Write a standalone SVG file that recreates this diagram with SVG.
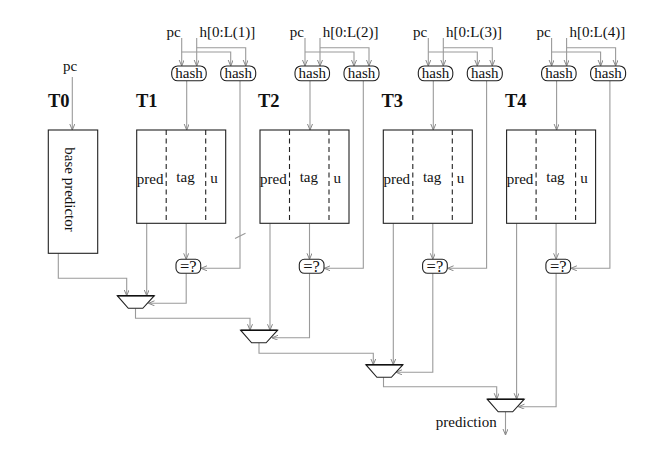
<svg xmlns="http://www.w3.org/2000/svg" width="663" height="464" viewBox="0 0 663 464">
<defs>
<marker id="ar" markerWidth="7" markerHeight="6" refX="6" refY="2.5" orient="auto" markerUnits="userSpaceOnUse">
<path d="M0,0 L6,2.5 L0,5" fill="none" stroke="#888" stroke-width="1"/>
</marker>
</defs>
<style>
text{font-family:"Liberation Serif","Times New Roman",serif;font-size:15px;fill:#111}
.T{font-weight:bold;font-size:18.5px}
.c{text-anchor:middle}
.eq{font-size:16.5px}
.box{fill:#fff;stroke:#222;stroke-width:1.1}
.dash{stroke:#222;stroke-width:1.1;stroke-dasharray:5,3.5}
.ln{fill:none;stroke:#9a9a9a;stroke-width:1.1}
.ar{marker-end:url(#ar)}
.mux{fill:#fff;stroke:#222;stroke-width:1.1}
.top{stroke:#111;stroke-width:1.6}
</style>
<rect width="663" height="464" fill="#fff"/>

<g id="connectors">
<!-- T0 -->
<path class="ln ar" d="M72.3,77 V130"/>
<path class="ln ar" d="M58.3,253.3 V278.3 H126.7 V295.7"/>
<!-- T1 X=136.7 -->
<path class="ln ar" d="M181.7,38 V66"/>
<path class="ln ar" d="M181.7,52 H230.7 V66"/>
<path class="ln ar" d="M196.7,38 V66"/>
<path class="ln ar" d="M196.7,47.7 H245.7 V66"/>
<path class="ln ar" d="M186.7,81 V130"/>
<path class="ln ar" d="M240,81 V268.3 H201"/>
<path class="ln" d="M235,238.5 L245.5,233.3"/>
<path class="ln ar" d="M186.2,223.3 V259.3"/>
<path class="ln ar" d="M146.7,223.3 V295.7"/>
<path class="ln ar" d="M186.2,273.3 V303.3 H148.5"/>
<path class="ln ar" d="M135.5,308.3 V318.3 H250 V330.2"/>
<!-- T2 X=260 -->
<path class="ln ar" d="M305,38 V66"/>
<path class="ln ar" d="M305,52 H354 V66"/>
<path class="ln ar" d="M320,38 V66"/>
<path class="ln ar" d="M320,47.7 H369 V66"/>
<path class="ln ar" d="M310,81 V130"/>
<path class="ln ar" d="M363.3,81 V268.3 H324.3"/>
<path class="ln ar" d="M309.5,223.3 V259.3"/>
<path class="ln ar" d="M270,223.3 V330.2"/>
<path class="ln ar" d="M309.5,273.3 V337.8 H272"/>
<path class="ln ar" d="M259,342.8 V353.3 H373.3 V364.7"/>
<!-- T3 X=383.3 -->
<path class="ln ar" d="M428.3,38 V66"/>
<path class="ln ar" d="M428.3,52 H477.3 V66"/>
<path class="ln ar" d="M443.3,38 V66"/>
<path class="ln ar" d="M443.3,47.7 H492.3 V66"/>
<path class="ln ar" d="M433.3,81 V130"/>
<path class="ln ar" d="M486.6,81 V268.3 H447.6"/>
<path class="ln ar" d="M432.8,223.3 V259.3"/>
<path class="ln ar" d="M393.3,223.3 V364.7"/>
<path class="ln ar" d="M432.8,273.3 V372.3 H396"/>
<path class="ln ar" d="M383.5,377.3 V386.7 H496.7 V399.2"/>
<!-- T4 X=506.6 -->
<path class="ln ar" d="M551.6,38 V66"/>
<path class="ln ar" d="M551.6,52 H600.6 V66"/>
<path class="ln ar" d="M566.6,38 V66"/>
<path class="ln ar" d="M566.6,47.7 H615.6 V66"/>
<path class="ln ar" d="M556.6,81 V130"/>
<path class="ln ar" d="M609.9,81 V268.3 H570.9"/>
<path class="ln ar" d="M556.1,223.3 V259.3"/>
<path class="ln ar" d="M516.6,223.3 V399.2"/>
<path class="ln ar" d="M556.1,273.3 V406.7 H518.5"/>
<path class="ln ar" d="M505.5,411.8 V435"/>
</g>

<g id="T0">
<text x="63" y="71">pc</text>
<text class="T" x="48" y="107">T0</text>
<rect class="box" x="48.3" y="130" width="49.4" height="123.3"/>
<text transform="translate(65,189.5) rotate(90)" class="c">base predictor</text>
</g>

<g id="T1">
<text x="166.5" y="37">pc</text>
<text x="199.5" y="37">h[0:L(1)]</text>
<rect class="box" x="171.7" y="66" width="34.5" height="14.8" rx="6"/>
<text class="c" x="189" y="78">hash</text>
<rect class="box" x="220.7" y="66" width="35" height="14.8" rx="6"/>
<text class="c" x="238.2" y="78">hash</text>
<text class="T" x="136" y="107">T1</text>
<rect class="box" x="136.7" y="130" width="89" height="93.3"/>
<line class="dash" x1="166.2" y1="130" x2="166.2" y2="223.3"/>
<line class="dash" x1="205.7" y1="130" x2="205.7" y2="223.3"/>
<text x="136.8" y="183.5">pred</text>
<text class="c" x="185.5" y="182">tag</text>
<text class="c" x="214" y="183">u</text>
<rect class="box" x="176" y="259.3" width="24.7" height="14" rx="5"/>
<text class="c eq" x="188.3" y="271.5">=?</text>
</g>

<g id="T2">
<text x="289.8" y="37">pc</text>
<text x="322.8" y="37">h[0:L(2)]</text>
<rect class="box" x="295" y="66" width="34.5" height="14.8" rx="6"/>
<text class="c" x="312.3" y="78">hash</text>
<rect class="box" x="344" y="66" width="35" height="14.8" rx="6"/>
<text class="c" x="361.5" y="78">hash</text>
<text class="T" x="258" y="107">T2</text>
<rect class="box" x="260" y="130" width="89" height="93.3"/>
<line class="dash" x1="289.5" y1="130" x2="289.5" y2="223.3"/>
<line class="dash" x1="329" y1="130" x2="329" y2="223.3"/>
<text x="260.1" y="183.5">pred</text>
<text class="c" x="308.8" y="182">tag</text>
<text class="c" x="337.3" y="183">u</text>
<rect class="box" x="299.3" y="259.3" width="24.7" height="14" rx="5"/>
<text class="c eq" x="311.6" y="271.5">=?</text>
</g>

<g id="T3">
<text x="413.1" y="37">pc</text>
<text x="446.1" y="37">h[0:L(3)]</text>
<rect class="box" x="418.3" y="66" width="34.5" height="14.8" rx="6"/>
<text class="c" x="435.6" y="78">hash</text>
<rect class="box" x="467.3" y="66" width="35" height="14.8" rx="6"/>
<text class="c" x="484.8" y="78">hash</text>
<text class="T" x="381.5" y="107">T3</text>
<rect class="box" x="383.3" y="130" width="89" height="93.3"/>
<line class="dash" x1="412.8" y1="130" x2="412.8" y2="223.3"/>
<line class="dash" x1="452.3" y1="130" x2="452.3" y2="223.3"/>
<text x="383.4" y="183.5">pred</text>
<text class="c" x="432.1" y="182">tag</text>
<text class="c" x="460.6" y="183">u</text>
<rect class="box" x="422.6" y="259.3" width="24.7" height="14" rx="5"/>
<text class="c eq" x="434.9" y="271.5">=?</text>
</g>

<g id="T4">
<text x="536.4" y="37">pc</text>
<text x="569.4" y="37">h[0:L(4)]</text>
<rect class="box" x="541.6" y="66" width="34.5" height="14.8" rx="6"/>
<text class="c" x="558.9" y="78">hash</text>
<rect class="box" x="590.6" y="66" width="35" height="14.8" rx="6"/>
<text class="c" x="608.1" y="78">hash</text>
<text class="T" x="505" y="107">T4</text>
<rect class="box" x="506.6" y="130" width="89" height="93.3"/>
<line class="dash" x1="536.1" y1="130" x2="536.1" y2="223.3"/>
<line class="dash" x1="575.6" y1="130" x2="575.6" y2="223.3"/>
<text x="506.7" y="183.5">pred</text>
<text class="c" x="555.4" y="182">tag</text>
<text class="c" x="583.9" y="183">u</text>
<rect class="box" x="545.9" y="259.3" width="24.7" height="14" rx="5"/>
<text class="c eq" x="558.2" y="271.5">=?</text>
</g>

<g id="mux1"><path class="mux" d="M117.3,295.7 H154.3 L142.8,308.3 H128.3 Z"/><line class="top" x1="117.3" y1="295.7" x2="154.3" y2="295.7"/></g>
<g id="mux2"><path class="mux" d="M240.6,330.2 H277.6 L266.1,342.8 H251.6 Z"/><line class="top" x1="240.6" y1="330.2" x2="277.6" y2="330.2"/></g>
<g id="mux3"><path class="mux" d="M365.9,364.7 H402.9 L391.4,377.3 H376.9 Z"/><line class="top" x1="365.9" y1="364.7" x2="402.9" y2="364.7"/></g>
<g id="mux4"><path class="mux" d="M487.2,399.2 H524.2 L512.7,411.8 H498.2 Z"/><line class="top" x1="487.2" y1="399.2" x2="524.2" y2="399.2"/></g>

<g id="output">
<text x="496.7" y="426.7" style="text-anchor:end">prediction</text>
</g>
</svg>
